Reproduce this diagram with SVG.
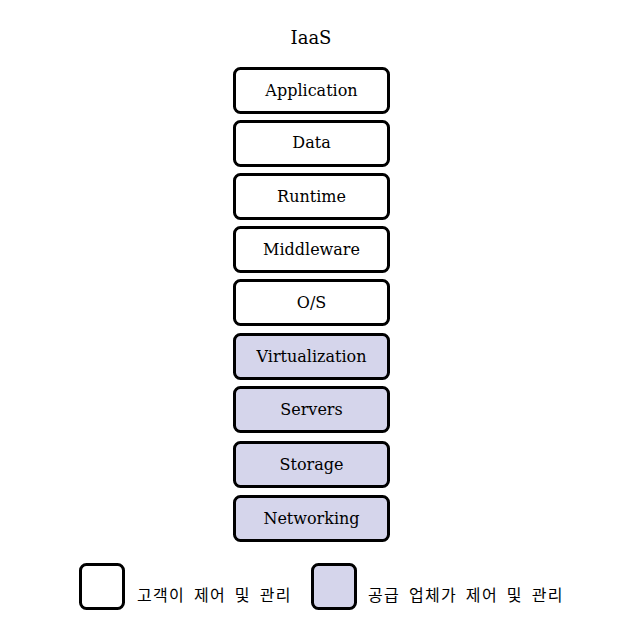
<svg xmlns="http://www.w3.org/2000/svg" width="634" height="637" viewBox="0 0 634 637">
<style>
.box{stroke:#000;stroke-width:3;}
.cust{fill:#ffffff;}
.prov{fill:#d5d5eb;}
.lbl{font-family:"DejaVu Serif","Liberation Serif",serif;font-size:16px;fill:#000;text-anchor:middle;}
.title{font-family:"DejaVu Serif","Liberation Serif",serif;font-size:18px;fill:#000;text-anchor:middle;}
.leg{font-family:"Noto Sans CJK KR","Noto Sans",sans-serif;font-size:16px;fill:#000;letter-spacing:1.3px;word-spacing:4px;}
</style>
<rect width="634" height="637" fill="#ffffff"/>
<text class="title" x="311" y="44">IaaS</text>
<g id="application"><rect class="box cust" x="234.5" y="68.5" width="154" height="44" rx="6"/><text class="lbl" x="311.5" y="96">Application</text></g>
<g id="data"><rect class="box cust" x="234.5" y="121.5" width="154" height="44" rx="6"/><text class="lbl" x="311.5" y="148">Data</text></g>
<g id="runtime"><rect class="box cust" x="234.5" y="174.5" width="154" height="44" rx="6"/><text class="lbl" x="311.5" y="202">Runtime</text></g>
<g id="middleware"><rect class="box cust" x="234.5" y="227.5" width="154" height="44" rx="6"/><text class="lbl" x="311.5" y="255">Middleware</text></g>
<g id="os"><rect class="box cust" x="234.5" y="280.5" width="154" height="44" rx="6"/><text class="lbl" x="311.5" y="308">O/S</text></g>
<g id="virtualization"><rect class="box prov" x="234.5" y="334.5" width="154" height="44" rx="6"/><text class="lbl" x="311.5" y="362">Virtualization</text></g>
<g id="servers"><rect class="box prov" x="234.5" y="387.5" width="154" height="44" rx="6"/><text class="lbl" x="311.5" y="415">Servers</text></g>
<g id="storage"><rect class="box prov" x="234.5" y="442.5" width="154" height="44" rx="6"/><text class="lbl" x="311.5" y="470">Storage</text></g>
<g id="networking"><rect class="box prov" x="234.5" y="496.5" width="154" height="44" rx="6"/><text class="lbl" x="311.5" y="524">Networking</text></g>
<g id="connectors"></g>
<g id="legend-customer"><rect class="box cust" x="80.5" y="564.5" width="43" height="44" rx="6"/><text class="leg" x="137" y="601">고객이 제어 및 관리</text></g>
<g id="legend-provider"><rect class="box prov" x="312.5" y="564.5" width="43" height="44" rx="6"/><text class="leg" x="368" y="601">공급 업체가 제어 및 관리</text></g>
</svg>
